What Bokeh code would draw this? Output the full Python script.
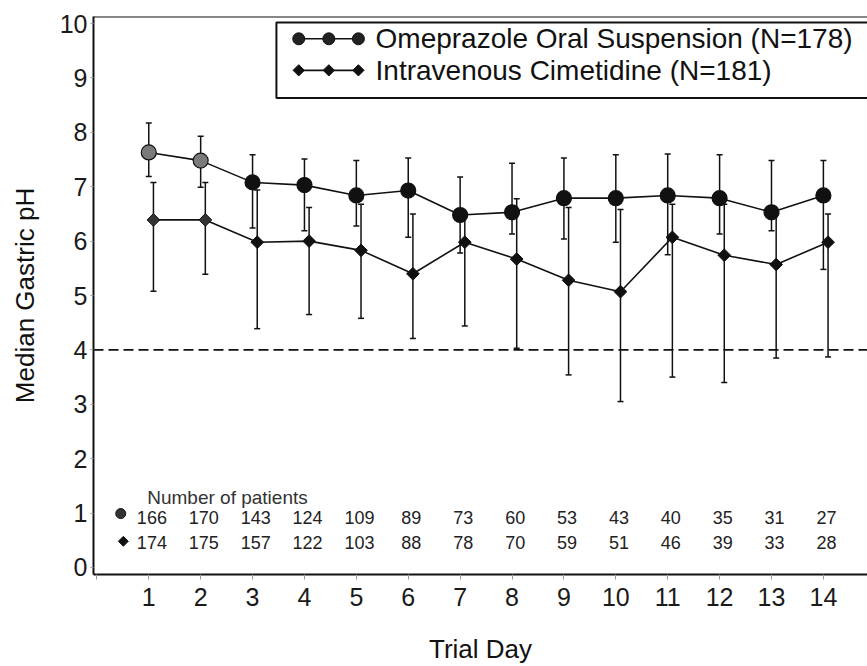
import numpy as np
from bokeh.plotting import figure
from bokeh.models import FixedTicker, Span, Range1d, Whisker, ColumnDataSource, TeeHead
from bokeh.core.properties import value
from bokeh.embed import file_html
from bokeh.resources import INLINE

# ---------------- data ----------------
days = list(range(1, 15))
ome_median = [7.63, 7.48, 7.08, 7.03, 6.84, 6.93, 6.48, 6.53, 6.79, 6.79, 6.84, 6.79, 6.53, 6.84]
ome_upper = [8.17, 7.93, 7.59, 7.51, 7.48, 7.53, 7.18, 7.43, 7.53, 7.59, 7.60, 7.59, 7.48, 7.48]
ome_lower = [7.19, 6.99, 6.24, 6.19, 6.28, 6.07, 5.78, 6.13, 6.04, 5.98, 5.75, 6.13, 6.19, 5.48]
cim_median = [6.39, 6.39, 5.98, 6.00, 5.83, 5.40, 5.98, 5.67, 5.28, 5.07, 6.07, 5.74, 5.57, 5.98]
cim_upper = [7.08, 7.08, 6.94, 6.62, 6.68, 6.50, 6.45, 6.78, 6.62, 6.58, 6.68, 6.68, 6.50, 6.50]
cim_lower = [5.08, 5.39, 4.39, 4.65, 4.58, 4.21, 4.44, 4.03, 3.54, 3.05, 3.50, 3.40, 3.85, 3.87]
ome_n = [166, 170, 143, 124, 109, 89, 73, 60, 53, 43, 40, 35, 31, 27]
cim_n = [174, 175, 157, 122, 103, 88, 78, 70, 59, 51, 46, 39, 33, 28]
threshold_ph = 4
y_ticks = list(range(0, 11))
x_ticks = list(range(0, 15))

ome_label = "Omeprazole Oral Suspension (N=178)"
cim_label = "Intravenous Cimetidine (N=181)"
count_title = "Number of patients"

# ---------------- style / layout ----------------
FONT = value("Liberation Sans")
INK = "#111111"
cim_shift = 0.09          # diamonds drawn slightly right of the circles
ome_fill = ["#7a7a7a" if d <= 2 else INK for d in days]
cim_fill = ["#333333" if d <= 2 else INK for d in days]

p = figure(width=867, height=666, output_backend="svg", toolbar_location=None,
           x_range=Range1d(-0.065, 14.85), y_range=Range1d(-0.13, 10.13),
           min_border_left=93, min_border_top=16, min_border_right=0, min_border_bottom=92)
p.outline_line_color = None
p.grid.visible = False
p.background_fill_color = "white"
p.border_fill_color = "white"

# axes
for ax in (p.xaxis[0], p.yaxis[0]):
    ax.axis_line_width = 2
    ax.axis_line_color = INK
    ax.major_label_text_font = "Liberation Sans"
    ax.major_label_text_color = "#1a1a1a"
    ax.major_label_text_font_size = "25px"
    ax.axis_label_text_font = "Liberation Sans"
    ax.axis_label_text_font_style = "normal"
    ax.axis_label_text_font_size = "26px"
    ax.axis_label_text_color = INK
    ax.minor_tick_line_color = None
    ax.major_tick_in = 0

p.xaxis.ticker = FixedTicker(ticks=x_ticks)
p.xaxis.major_label_overrides = {0: ""}
p.xaxis.major_tick_out = 5
p.xaxis.major_tick_line_color = "#999999"
p.xaxis.major_label_standoff = 8
p.xaxis.axis_label = "Trial Day"
p.xaxis.axis_label_standoff = 25

p.yaxis.ticker = FixedTicker(ticks=y_ticks)
p.yaxis.major_tick_out = 3
p.yaxis.major_tick_line_color = "#999999"
p.yaxis.major_label_standoff = 3
p.yaxis.axis_label = "Median Gastric pH"
p.yaxis.axis_label_standoff = 17

# top frame line
p.add_layout(Span(location=10.13, dimension="width", line_color=INK, line_width=2))

# threshold dashed line
p.add_layout(Span(location=threshold_ph, dimension="width", line_color=INK,
                  line_width=1.6, line_dash="10 5"))

# sources
ome_src = ColumnDataSource(dict(x=days, y=ome_median, upper=ome_upper, lower=ome_lower, fill=ome_fill))
cim_x = [d + cim_shift for d in days]
cim_src = ColumnDataSource(dict(x=cim_x, y=cim_median, upper=cim_upper, lower=cim_lower, fill=cim_fill))

for src in (ome_src, cim_src):
    w = Whisker(base="x", upper="upper", lower="lower", source=src,
                line_color=INK, line_width=1.5,
                upper_head=TeeHead(size=6, line_color=INK, line_width=1.5),
                lower_head=TeeHead(size=6, line_color=INK, line_width=1.5))
    p.add_layout(w)

p.line("x", "y", source=ome_src, line_color=INK, line_width=1.6)
p.line("x", "y", source=cim_src, line_color=INK, line_width=1.6)
p.scatter("x", "y", source=ome_src, marker="circle", size=15,
          fill_color="fill", line_color=INK, line_width=1.2)
p.scatter("x", "y", source=cim_src, marker="square", angle=np.pi / 4, size=9,
          fill_color="fill", line_color=INK, line_width=1)

# ---------------- legend (drawn manually: three markers joined by a line) -------------
leg_left, leg_right, leg_top, leg_bottom = 3.46, 15.5, 10.02, 8.63
p.quad(left=[leg_left], right=[leg_right], top=[leg_top], bottom=[leg_bottom],
       fill_color="white", line_color=INK, line_width=2)
leg_mx = [3.89, 4.47, 5.04]
row1_y, row2_y = 9.72, 9.14
p.line(leg_mx, [row1_y] * 3, line_color=INK, line_width=1.6)
p.scatter(leg_mx, [row1_y] * 3, marker="circle", size=12, fill_color="#222222", line_color=INK)
p.line(leg_mx, [row2_y] * 3, line_color=INK, line_width=1.6)
p.scatter(leg_mx, [row2_y] * 3, marker="square", angle=np.pi / 4, size=8,
          fill_color=INK, line_color=INK)
leg_tx = 5.37
p.text(x=[leg_tx, leg_tx], y=[row1_y, row2_y], text=[ome_label, cim_label],
       text_font=FONT, text_font_size=value("28px"), text_color=INK,
       text_align="left", text_baseline="middle")

# ---------------- number of patients table ----------------
p.text(x=[0.97], y=[1.29], text=[count_title], text_font=FONT,
       text_font_size=value("19px"), text_color="#333333",
       text_align="left", text_baseline="middle")
cnt_row1_y, cnt_row2_y = 0.92, 0.46
p.scatter([0.46], [0.99], marker="circle", size=10, fill_color="#333333", line_color=INK)
p.scatter([0.51], [0.48], marker="square", angle=np.pi / 4, size=7, fill_color=INK, line_color=INK)
p.text(x=[d + 0.06 for d in days], y=[cnt_row1_y] * len(days), text=[str(n) for n in ome_n],
       text_font=FONT, text_font_size=value("18px"), text_color="#222222",
       text_align="center", text_baseline="middle")
p.text(x=[d + 0.06 for d in days], y=[cnt_row2_y] * len(days), text=[str(n) for n in cim_n],
       text_font=FONT, text_font_size=value("18px"), text_color="#222222",
       text_align="center", text_baseline="middle")

open("out.html", "w").write(file_html(p, INLINE))
